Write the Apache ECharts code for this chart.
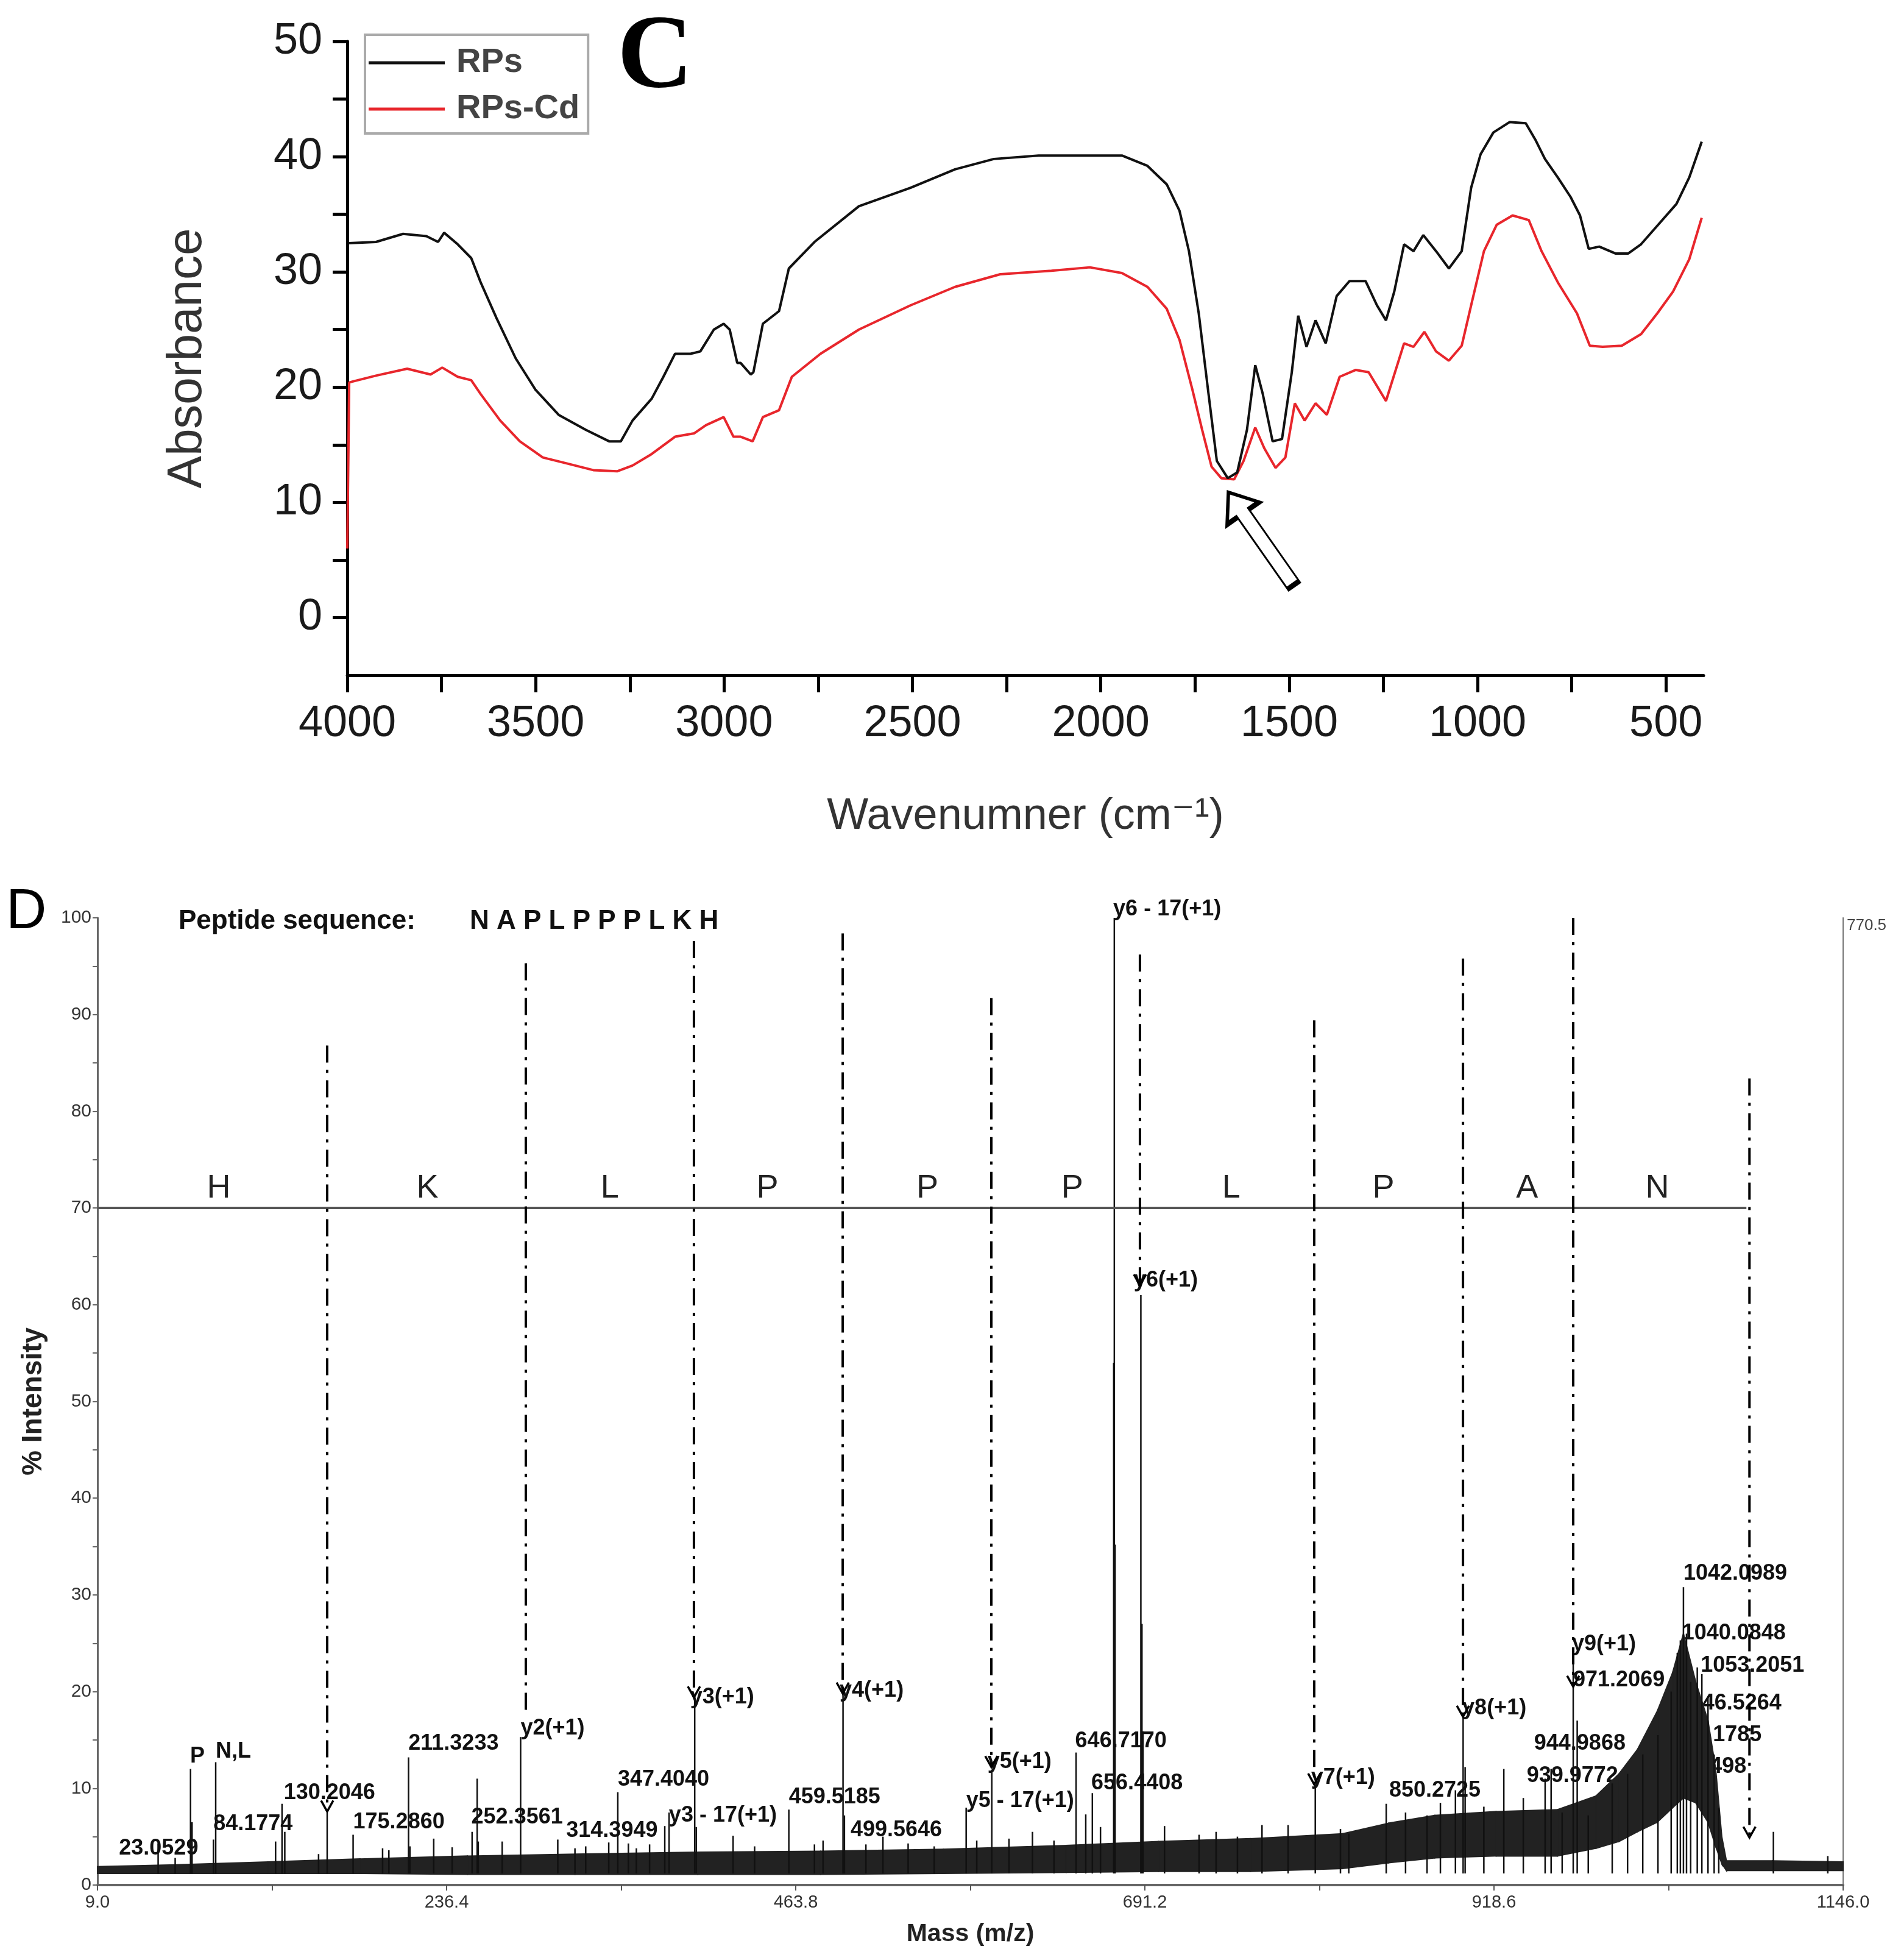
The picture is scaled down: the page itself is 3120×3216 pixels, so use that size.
<!DOCTYPE html>
<html>
<head>
<meta charset="utf-8">
<script src="https://cdn.jsdelivr.net/npm/echarts@6.0.0/dist/echarts.min.js"></script>
<style>
  html, body { margin: 0; padding: 0; background: #fff; }
  #main { width: 3120px; height: 3216px; }
</style>
</head>
<body>
<div id="main"></div>
<script>
// ---- panel C: FTIR spectra ----
const rpsWn = [3996, 3924, 3852, 3790, 3759, 3743, 3707, 3671, 3646, 3604, 3553, 3501, 3439, 3367, 3305, 3274, 3243, 3192, 3161, 3130, 3089, 3063, 3027, 3001, 2985, 2965, 2956, 2929, 2922, 2897, 2854, 2828, 2760, 2642, 2505, 2387, 2284, 2165, 1944, 1876, 1825, 1791, 1766, 1740, 1714, 1692, 1663, 1638, 1612, 1590, 1570, 1544, 1519, 1493, 1476, 1454, 1430, 1403, 1374, 1340, 1297, 1267, 1243, 1221, 1195, 1170, 1144, 1110, 1076, 1042, 1017, 992, 958, 915, 872, 847, 821, 787, 753, 728, 705, 677, 634, 600, 566, 523, 472, 438, 405];
const rpsAbs = [32.5, 32.6, 33.3, 33.1, 32.6, 33.4, 32.4, 31.2, 29.1, 26.0, 22.5, 19.8, 17.6, 16.3, 15.3, 15.3, 17.1, 19.0, 20.9, 22.9, 22.9, 23.1, 25.0, 25.5, 25.0, 22.1, 22.1, 21.1, 21.3, 25.5, 26.6, 30.3, 32.6, 35.7, 37.3, 38.9, 39.8, 40.1, 40.1, 39.2, 37.6, 35.3, 31.8, 26.4, 19.4, 13.6, 12.1, 12.6, 16.3, 21.9, 19.4, 15.3, 15.5, 21.3, 26.2, 23.5, 25.8, 23.8, 27.9, 29.2, 29.2, 27.1, 25.8, 28.3, 32.4, 31.8, 33.2, 31.8, 30.3, 31.8, 37.3, 40.2, 42.1, 43.0, 42.9, 41.5, 39.8, 38.2, 36.5, 34.9, 32.0, 32.2, 31.6, 31.6, 32.4, 34.0, 35.9, 38.2, 41.3];
const cdWn = [4000, 3995, 3985, 3924, 3841, 3779, 3748, 3707, 3671, 3646, 3594, 3542, 3481, 3419, 3347, 3284, 3243, 3192, 3130, 3079, 3048, 3001, 2975, 2956, 2924, 2897, 2854, 2820, 2744, 2642, 2505, 2387, 2267, 2131, 2029, 1944, 1876, 1825, 1791, 1757, 1731, 1706, 1680, 1646, 1621, 1590, 1566, 1536, 1510, 1485, 1459, 1430, 1400, 1366, 1323, 1289, 1243, 1195, 1170, 1141, 1110, 1076, 1042, 1017, 983, 949, 907, 864, 830, 787, 736, 702, 668, 617, 566, 523, 481, 438, 405];
const cdAbs = [6.0, 20.4, 20.5, 21.0, 21.6, 21.1, 21.7, 20.9, 20.6, 19.4, 17.1, 15.3, 13.9, 13.4, 12.8, 12.7, 13.2, 14.2, 15.7, 16.0, 16.7, 17.4, 15.7, 15.7, 15.3, 17.4, 18.0, 20.9, 22.9, 25.0, 27.1, 28.7, 29.8, 30.1, 30.4, 29.9, 28.7, 26.8, 24.1, 19.8, 16.3, 13.1, 12.1, 12.0, 13.6, 16.5, 14.7, 13.0, 13.9, 18.6, 17.1, 18.6, 17.6, 20.9, 21.5, 21.3, 18.8, 23.8, 23.5, 24.8, 23.1, 22.3, 23.6, 27.1, 31.8, 34.1, 34.9, 34.5, 31.8, 29.1, 26.4, 23.6, 23.5, 23.6, 24.6, 26.4, 28.3, 31.1, 34.7];
const irTickWn = [500, 750, 1000, 1250, 1500, 1750, 2000, 2250, 2500, 2750, 3000, 3250, 3500, 3750, 4000];
const irLabelWn = [500, 1000, 1500, 2000, 2500, 3000, 3500, 4000];
const absTicks = [0, 5, 10, 15, 20, 25, 30, 35, 40, 45, 50];
const absLabels = [0, 10, 20, 30, 40, 50];
const arrowAt = [1575, 6.85];

// ---- panel D: MS/MS spectrum ----
const msTicks = [9.0, 122.7, 236.4, 350.1, 463.8, 577.5, 691.2, 804.9, 918.6, 1032.3, 1146.0];
const msLabels = [9.0, 236.4, 463.8, 691.2, 918.6, 1146.0];
// noise band envelope
const bandMass = [9, 60, 120, 180, 250, 320, 400, 480, 560, 640, 700, 760, 820, 850, 880, 920, 960, 985, 1000, 1012, 1025, 1035, 1042, 1050, 1058, 1063, 1067, 1070, 1100, 1146];
const bandLow = [1.2, 1.2, 1.2, 1.2, 1.1, 1.1, 1.1, 1.1, 1.2, 1.3, 1.4, 1.4, 1.7, 2.3, 2.8, 3.0, 3.0, 3.8, 4.5, 5.5, 6.5, 8.0, 9.0, 8.5, 6.5, 4.0, 2.2, 1.5, 1.5, 1.5];
const bandHigh = [1.9, 2.1, 2.4, 2.7, 3.0, 3.2, 3.4, 3.5, 3.7, 4.1, 4.5, 4.8, 5.3, 6.4, 7.2, 7.6, 7.8, 9.2, 11.5, 14, 18, 22, 26, 21, 17, 12, 5, 2.5, 2.5, 2.4];
// peaks
const peakMass = [48.5, 59.6, 69.6, 70.6, 84.5, 86, 125, 129.2, 131, 153, 158.6, 175.5, 194.7, 198.8, 211.6, 212.5, 228, 240, 253, 256.3, 257, 272.6, 284.6, 308.8, 320, 327, 342, 347.9, 354.8, 360, 368.6, 378.5, 381.3, 398, 399, 423, 437, 459.3, 476, 481.6, 494.6, 495.5, 509.5, 520.6, 537, 554, 574.8, 581.7, 591.5, 602.7, 618, 632, 646.4, 652.7, 657, 662.3, 671.3, 670.9, 671.8, 688.6, 689.3, 690.0, 704, 726.5, 737.6, 751.5, 767.5, 784.5, 802.2, 818.6, 824, 848.4, 861, 875, 883.7, 893.5, 898.5, 899.8, 912, 925, 937.7, 951.9, 955.8, 963, 970.2, 972.8, 980, 995.6, 1005.6, 1015.5, 1025.4, 1034, 1038, 1040, 1042, 1044, 1046.7, 1051, 1054, 1058, 1062, 1065, 1100.6, 1136];
const peakInt = [4.3, 2.8, 12.0, 6.5, 4.7, 12.7, 4.5, 8.4, 5.5, 3.2, 7.5, 5.2, 3.8, 3.6, 13.2, 4.0, 4.8, 3.9, 5.5, 11.0, 4.5, 4.5, 15.3, 4.7, 3.8, 4.0, 4.4, 9.6, 4.3, 3.8, 4.2, 6.1, 7.5, 19.4, 6.0, 5.1, 4.0, 7.8, 4.2, 4.6, 19.8, 7.2, 4.2, 5.0, 4.3, 4.0, 8.0, 4.6, 11.7, 4.8, 5.5, 4.6, 13.7, 7.3, 9.5, 6.0, 100, 54, 35.2, 61, 27, 15.9, 6.1, 5.2, 5.5, 5.0, 6.2, 6.2, 10.4, 5.8, 5.3, 8.4, 7.5, 7.2, 8.5, 9.8, 17.4, 12.2, 8.1, 12.0, 9.0, 11.0, 12.0, 7.5, 23.6, 17, 7.2, 10.5, 11.5, 13.5, 15.5, 20, 24, 25.3, 30.8, 26, 21, 22.5, 21.8, 19.5, 13.5, 8, 5.5, 3.0];
// fragment boundary lines (dash-dot)
const fragMass = [158.6, 288.0, 397.5, 494.4, 591.2, 688.0, 801.5, 898.4, 970.2, 1085.0];
const fragTop = [86.8, 95.3, 97.6, 98.4, 91.7, 96.2, 89.4, 95.8, 100, 83.4];
const fragBottom = [7.6, 17.9, 19.4, 19.8, 12.2, 62.0, 10.4, 17.4, 20.5, 4.9];
const fragArrow = [1, 0, 1, 1, 1, 1, 1, 1, 1, 1];
// sequence ladder
const seqLetters = ['H', 'K', 'L', 'P', 'P', 'P', 'L', 'P', 'A', 'N'];
const seqMass = [88, 223.9, 342.7, 445.3, 549.5, 643.9, 747.5, 846.6, 940.1, 1025];
const seqLineMass = [9, 1083];
const seqLineInt = 70;
// peak annotations
const peakLabelText = ['23.0529', 'P', 'N,L', '84.1774', '130.2046', '175.2860', '211.3233', '252.3561', 'y2(+1)', '314.3949', '347.4040', 'y3 - 17(+1)', 'y3(+1)', '459.5185', 'y4(+1)', '499.5646', 'y5 - 17(+1)', 'y5(+1)', '646.7170', '656.4408', 'y6 - 17(+1)', 'y6(+1)', 'y7(+1)', '850.2725', 'y8(+1)', '939.9772', '944.9868', 'y9(+1)', '971.2069', '1015.2498', '1026.1785', '1046.5264', '1053.2051', '1040.0848', '1042.0989'];
const peakLabelMass = [23, 69.3, 86, 84.5, 130.3, 175.5, 211.5, 252.5, 284.6, 314.3, 347.9, 381.2, 395, 459.3, 492.4, 499.5, 574.8, 588.7, 645.8, 656.3, 670.6, 684, 799.4, 850.3, 898, 939.9, 944.7, 969.4, 970.2, 1015.5, 1025.4, 1038.3, 1053.2, 1041.1, 1042];
const peakLabelInt = [3.1, 12.6, 13.1, 5.6, 8.8, 5.8, 13.9, 6.3, 15.5, 4.9, 10.2, 6.5, 18.7, 8.4, 19.4, 5.0, 8.0, 12.0, 14.2, 9.8, 100.2, 61.8, 10.4, 9.1, 17.6, 10.6, 13.9, 24.2, 20.5, 11.5, 14.8, 18.1, 22.0, 25.3, 31.5];

const SANS = '"Liberation Sans", Arial, sans-serif';
const NARROW = '"Liberation Sans Narrow", "Liberation Sans", sans-serif';

let initChart = () => {
  let element = document.getElementById("main");
  let myChart = echarts.init(element, null, { renderer: "canvas" });

  let option = {
    backgroundColor: "#fff",
    animation: false,
    grid: [
      { left: 570, top: 68, width: 2226, height: 1040, outerBoundsMode: "none" },
      { left: 160, top: 1506, width: 2865, height: 1587, outerBoundsMode: "none" },
    ],
    legend: {
      data: ["RPs", "RPs-Cd"],
      orient: "vertical",
      left: 599,
      top: 57,
      icon: "rect",
      itemWidth: 125,
      itemHeight: 5,
      itemGap: 20,
      padding: [18, 14, 12, 6],
      borderColor: "#aaa",
      borderWidth: 4,
      backgroundColor: "#fff",
      textStyle: { fontSize: 56, color: "#444", fontWeight: "bold", fontFamily: SANS, padding: [0, 0, 0, 14] },
    },
    xAxis: [
      {
        gridIndex: 0,
        type: "value",
        inverse: true,
        min: 400,
        max: 4000,
        splitLine: { show: false },
        axisLine: { onZero: false, lineStyle: { color: "#000", width: 5 } },
        axisTick: { customValues: irTickWn, length: 28, lineStyle: { color: "#000", width: 5 } },
        axisLabel: {
          customValues: irLabelWn,
          fontSize: 72,
          color: "#1a1a1a",
          fontFamily: SANS,
          margin: 44,
          formatter: (v) => String(v),
        },
        name: "Wavenumner (cm\u207B\u00B9)",
        nameLocation: "middle",
        nameGap: 196,
        nameMoveOverlap: false,
        nameTextStyle: { fontSize: 72, color: "#333", fontFamily: SANS + ', "DejaVu Sans"' },
      },
      {
        gridIndex: 1,
        type: "value",
        min: 9,
        max: 1146,
        splitLine: { show: false },
        axisLine: { onZero: false, lineStyle: { color: "#666", width: 4 } },
        axisTick: { customValues: msTicks, length: 9, lineStyle: { color: "#555", width: 2 } },
        axisLabel: {
          customValues: msLabels,
          fontSize: 29,
          color: "#333",
          fontFamily: NARROW,
          margin: 14,
          formatter: (v) => v.toFixed(1),
        },
        name: "Mass (m/z)",
        nameLocation: "middle",
        nameGap: 60,
        nameMoveOverlap: false,
        nameTextStyle: { fontSize: 41, fontWeight: "bold", color: "#222", fontFamily: SANS },
      },
    ],
    yAxis: [
      {
        gridIndex: 0,
        type: "value",
        min: -5,
        max: 50,
        splitLine: { show: false },
        axisLine: { onZero: false, lineStyle: { color: "#000", width: 5 } },
        axisTick: { customValues: absTicks, length: 24, lineStyle: { color: "#000", width: 5 } },
        axisLabel: { customValues: absLabels, fontSize: 72, color: "#1a1a1a", fontFamily: SANS, margin: 41 },
        name: "Absorbance",
        nameLocation: "middle",
        nameRotate: 90,
        nameGap: 222,
        nameMoveOverlap: false,
        nameTextStyle: { fontSize: 80, color: "#333", fontFamily: SANS },
      },
      {
        gridIndex: 1,
        type: "value",
        min: 0,
        max: 100,
        interval: 5,
        splitLine: { show: false },
        axisLine: { onZero: false, lineStyle: { color: "#666", width: 3 } },
        axisTick: { length: 8, lineStyle: { color: "#666", width: 2 } },
        axisLabel: {
          fontSize: 30,
          color: "#333",
          fontFamily: NARROW,
          margin: 10,
          formatter: (v) => (v % 10 === 0 ? String(v) : ""),
        },
        name: "% Intensity",
        nameLocation: "middle",
        nameRotate: 90,
        nameGap: 82,
        nameMoveOverlap: false,
        nameTextStyle: { fontSize: 46, fontWeight: "bold", color: "#222", fontFamily: SANS },
      },
      {
        gridIndex: 1,
        type: "value",
        position: "right",
        min: 0,
        max: 100,
        splitLine: { show: false },
        axisLine: { show: true, onZero: false, lineStyle: { color: "#777", width: 2 } },
        axisTick: { show: false },
        axisLabel: { show: false },
      },
    ],
    graphic: [
      {
        type: "text",
        left: 1013,
        top: 12,
        style: { text: "C", font: 'bold 172px "Liberation Serif", "Times New Roman", serif', fill: "#000" },
      },
      {
        type: "text",
        left: 10,
        top: 1452,
        style: { text: "D", font: "92px " + SANS, fill: "#000" },
      },
      {
        type: "text",
        left: 293,
        top: 1490,
        style: { text: "Peptide sequence:", font: "bold 44px " + SANS, fill: "#111" },
      },
      {
        type: "text",
        left: 771,
        top: 1490,
        style: { text: "N A P L P P P L K H", font: "bold 44px " + SANS, fill: "#111" },
      },
      {
        type: "text",
        left: 3031,
        top: 1506,
        style: { text: "770.5", font: "26px " + NARROW, fill: "#444" },
      },
    ],
    series: [
      {
        name: "RPs",
        type: "line",
        xAxisIndex: 0,
        yAxisIndex: 0,
        showSymbol: false,
        color: "#111",
        lineStyle: { color: "#111", width: 4 },
        data: rpsWn.map((w, i) => [w, rpsAbs[i]]),
        z: 3,
      },
      {
        name: "RPs-Cd",
        type: "line",
        xAxisIndex: 0,
        yAxisIndex: 0,
        showSymbol: false,
        color: "#e8262c",
        lineStyle: { color: "#e8262c", width: 4 },
        data: cdWn.map((w, i) => [w, cdAbs[i]]),
        z: 2,
        markPoint: {
          silent: true,
          symbol: "path://M50,0 L100,52 L68,52 L68,230 L32,230 L32,52 L0,52 Z",
          symbolSize: [64, 186],
          symbolRotate: 35,
          itemStyle: { color: "#fff", borderColor: "#000", borderWidth: 5 },
          label: { show: false },
          data: [{ coord: arrowAt }],
        },
      },
      // noise band
      {
        name: "band",
        type: "custom",
        xAxisIndex: 1,
        yAxisIndex: 1,
        data: bandMass.map((m, i) => [m, bandLow[i], bandHigh[i]]),
        renderItem: (params, api) => {
          const i = params.dataIndex;
          if (i >= bandMass.length - 1) return null;
          const a = api.coord([bandMass[i], bandLow[i]]);
          const b = api.coord([bandMass[i + 1], bandLow[i + 1]]);
          const c = api.coord([bandMass[i + 1], bandHigh[i + 1]]);
          const d = api.coord([bandMass[i], bandHigh[i]]);
          return {
            type: "polygon",
            shape: { points: [a, b, c, d] },
            style: { fill: "#222", stroke: "#222", lineWidth: 2 },
          };
        },
        z: 4,
      },
      // peak sticks
      {
        name: "peaks",
        type: "custom",
        xAxisIndex: 1,
        yAxisIndex: 1,
        data: peakMass.map((m, i) => [m, peakInt[i]]),
        renderItem: (params, api) => {
          const top = api.coord([api.value(0), api.value(1)]);
          const bot = api.coord([api.value(0), 1.2]);
          return {
            type: "line",
            shape: { x1: top[0], y1: top[1], x2: bot[0], y2: bot[1] },
            style: { stroke: "#111", lineWidth: 2.5 },
          };
        },
        z: 4,
      },
      // dash-dot fragment lines
      {
        name: "frag",
        type: "custom",
        xAxisIndex: 1,
        yAxisIndex: 1,
        data: fragMass.map((m, i) => [m, fragTop[i], fragBottom[i], fragArrow[i]]),
        renderItem: (params, api) => {
          const p1 = api.coord([api.value(0), api.value(1)]);
          const p2 = api.coord([api.value(0), api.value(2)]);
          const children = [
            {
              type: "line",
              shape: { x1: p1[0], y1: p1[1], x2: p2[0], y2: p2[1] },
              style: { stroke: "#000", lineWidth: 4, lineDash: [28, 12, 5, 12] },
            },
          ];
          if (api.value(3)) {
            children.push({
              type: "polyline",
              shape: { points: [[p2[0] - 10, p2[1] - 18], [p2[0], p2[1]], [p2[0] + 10, p2[1] - 18]] },
              style: { stroke: "#000", fill: null, lineWidth: 3.5 },
            });
          }
          return { type: "group", children: children };
        },
        z: 5,
      },
      // sequence line at 70%
      {
        name: "seqline",
        type: "line",
        xAxisIndex: 1,
        yAxisIndex: 1,
        showSymbol: false,
        lineStyle: { color: "#555", width: 4 },
        data: seqLineMass.map((m) => [m, seqLineInt]),
        z: 4,
      },
      // sequence letters
      {
        name: "seq",
        type: "custom",
        xAxisIndex: 1,
        yAxisIndex: 1,
        data: seqMass.map((m) => [m, seqLineInt + 0.9]),
        renderItem: (params, api) => {
          const p = api.coord([api.value(0), api.value(1)]);
          return {
            type: "text",
            style: {
              text: seqLetters[params.dataIndex],
              x: p[0],
              y: p[1] + 9,
              align: "center",
              verticalAlign: "bottom",
              font: "54px " + NARROW,
              fill: "#222",
            },
          };
        },
        z: 5,
      },
      // peak annotations
      {
        name: "labels",
        type: "custom",
        xAxisIndex: 1,
        yAxisIndex: 1,
        data: peakLabelMass.map((m, i) => [m, peakLabelInt[i]]),
        renderItem: (params, api) => {
          const p = api.coord([api.value(0), api.value(1)]);
          return {
            type: "text",
            style: {
              text: peakLabelText[params.dataIndex],
              x: p[0],
              y: p[1] + 7,
              align: "left",
              verticalAlign: "bottom",
              font: "bold 36px " + SANS,
              fill: "#111",
            },
          };
        },
        z: 3,
      },
    ],
  };
  myChart.setOption(option);
};

initChart();
</script>
</body>
</html>
